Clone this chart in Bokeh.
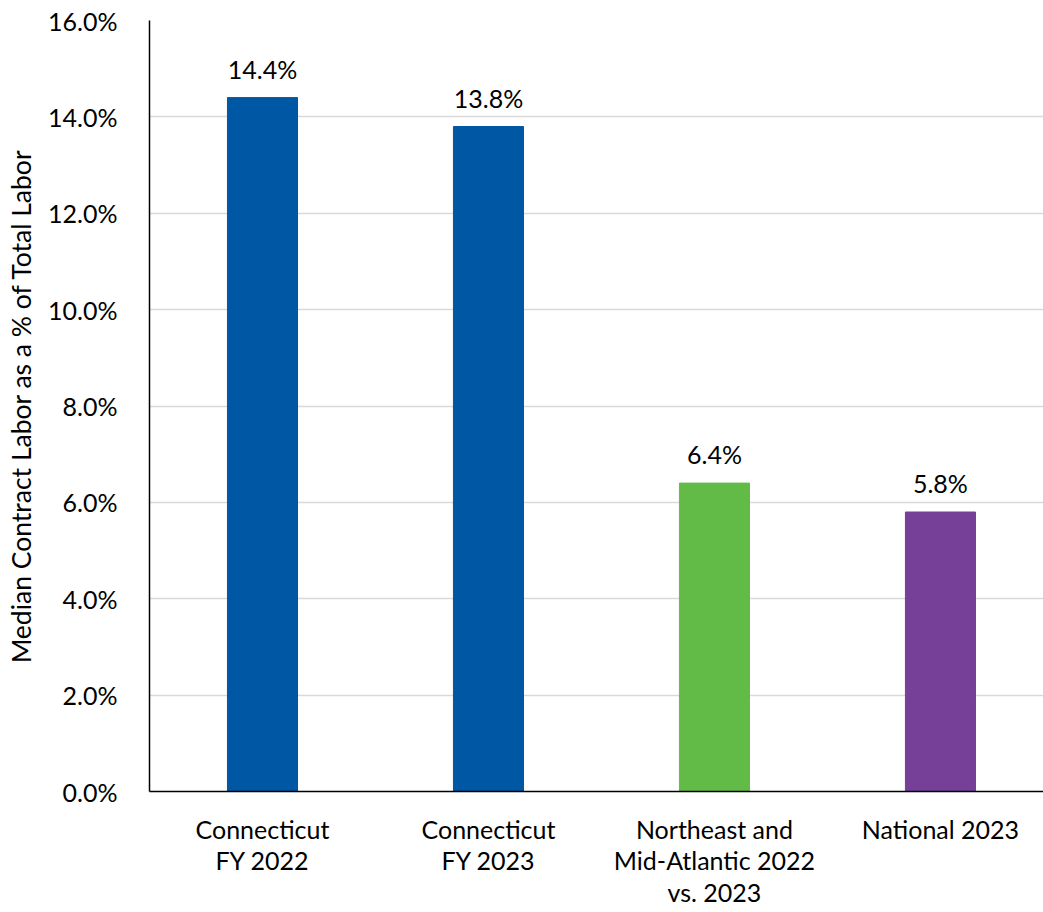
from bokeh.plotting import figure
from bokeh.models import Range1d, FixedTicker, ColumnDataSource, LabelSet
from bokeh.core.properties import value
from bokeh.embed import file_html
from bokeh.resources import INLINE

categories = ["Connecticut\nFY 2022", "Connecticut\nFY 2023", "Northeast and\nMid-Atlantic 2022\nvs. 2023", "National 2023"]
values = [14.4, 13.8, 6.4, 5.8]
labels = ["14.4%", "13.8%", "6.4%", "5.8%"]
colors = ["#0057A3", "#0057A3", "#63BB47", "#763F98"]
y_ticks = [0, 2, 4, 6, 8, 10, 12, 14, 16]

FONT = "Lato"
FS = "25px"

xs = list(range(len(categories)))
src = ColumnDataSource(dict(x=xs, top=values, label=labels, color=colors))

p = figure(frame_width=894, frame_height=771, output_backend="svg", toolbar_location=None,
           x_range=Range1d(-0.5, 3.456), y_range=Range1d(0, 16))
p.min_border_left = 149
p.min_border_right = 0
p.min_border_top = 20
p.min_border_bottom = 121
p.outline_line_color = None
p.background_fill_color = "white"

p.vbar(x="x", top="top", width=0.31, bottom=0, color="color", source=src)

lbl = LabelSet(x="x", y="top", text="label", source=src, text_align="center",
               text_baseline="alphabetic", y_offset=19, text_font=value(FONT),
               text_font_size=FS, text_color="#000000")
p.add_layout(lbl)

# y axis
p.yaxis.ticker = FixedTicker(ticks=y_ticks)
p.yaxis.major_label_overrides = {t: f"{t:.1f}%" for t in y_ticks}
p.yaxis.major_label_text_font = FONT
p.yaxis.major_label_text_font_size = FS
p.yaxis.major_label_text_color = "#000000"
p.yaxis.major_tick_line_color = None
p.yaxis.minor_tick_line_color = None
p.yaxis.axis_line_color = "#000000"
p.yaxis.axis_line_width = 1.5
p.yaxis.major_label_standoff = 26
p.yaxis.axis_label = "Median Contract Labor as a % of Total Labor"
p.yaxis.axis_label_text_font = FONT
p.yaxis.axis_label_text_font_size = "26.5px"
p.yaxis.axis_label_text_font_style = "normal"
p.yaxis.axis_label_text_color = "#000000"
p.yaxis.axis_label_standoff = 8

# x axis
p.xaxis.ticker = FixedTicker(ticks=xs)
p.xaxis.major_label_overrides = {i: c for i, c in zip(xs, categories)}
p.xaxis.major_label_text_font = FONT
p.xaxis.major_label_text_font_size = FS
p.xaxis.major_label_text_color = "#000000"
p.xaxis.major_label_text_line_height = 1.06
p.xaxis.major_tick_line_color = None
p.xaxis.minor_tick_line_color = None
p.xaxis.axis_line_color = "#000000"
p.xaxis.axis_line_width = 1.5
p.xaxis.major_label_standoff = 16

p.xgrid.grid_line_color = None
p.ygrid.grid_line_color = "#D9D9D9"
p.ygrid.grid_line_width = 1.5

open("out.html", "w").write(file_html(p, INLINE))
